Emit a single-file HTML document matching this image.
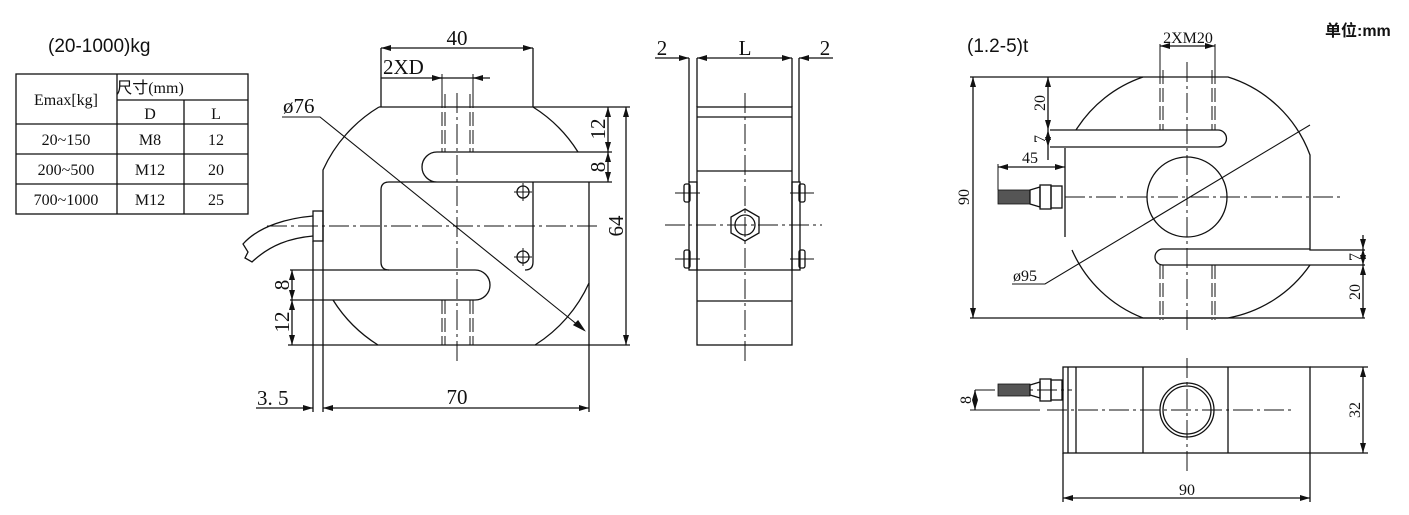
<!DOCTYPE html>
<html><head><meta charset="utf-8"><style>
html,body{margin:0;padding:0;background:#fff;}
svg{display:block}
.t{font-family:"Liberation Serif",serif;fill:#111;}
.s{font-family:"Liberation Sans","Noto Sans CJK SC",sans-serif;fill:#111;}
</style></head><body>
<svg width="1409" height="515" viewBox="0 0 1409 515" xmlns="http://www.w3.org/2000/svg">
<defs>
<marker id="a" viewBox="0 0 10 6" refX="10" refY="3" markerWidth="10" markerHeight="6" orient="auto-start-reverse" markerUnits="userSpaceOnUse"><path d="M0,0 L10,3 L0,6 z" fill="#111"/></marker>
</defs>
<g stroke="#111" stroke-width="1.3" fill="none">
<!-- table -->
<rect x="16" y="74" width="232" height="140"/>
<line x1="117" y1="74" x2="117" y2="214"/>
<line x1="117" y1="100" x2="248" y2="100"/>
<line x1="184" y1="100" x2="184" y2="214"/>
<line x1="16" y1="124" x2="248" y2="124"/>
<line x1="16" y1="154" x2="248" y2="154"/>
<line x1="16" y1="184" x2="248" y2="184"/>

<!-- FRONT VIEW -->
<path d="M379,107 L533,107 M533,107 A142,142 0 0 1 578,152"/>
<path d="M379,107 A142,142 0 0 0 323,170 L323,270"/>
<path d="M437,152 L578,152 M389,182 L589,182 M437,152 A15,15 0 0 0 437,182"/>
<path d="M589,182 L589,283 A142,142 0 0 1 535,345 L378,345 A142,142 0 0 1 333,300"/>
<path d="M290,270 L475,270 A15,15 0 0 1 475,300 L290,300"/>
<path d="M381,48 V107 M533,48 V107"/>
<path d="M389,182 Q381,182 381,190 L381,262 Q381,270 389,270 M533,182 L533,262 Q533,270 525,270"/>
<circle cx="523" cy="192" r="6"/><circle cx="523" cy="257" r="6"/>
<path d="M514,192 h18 M523,183 v18 M514,257 h18 M523,248 v18" stroke-width="1"/>
<g stroke-dasharray="20,4,3,4" stroke-width="1"><line x1="267" y1="226" x2="600" y2="226"/><line x1="457" y1="93" x2="457" y2="362"/></g>
<g stroke-dasharray="14,4" stroke-width="1"><path d="M442,94 V152 M445,94 V152 M470,94 V152 M473,94 V152 M442,300 V345 M445,300 V345 M470,300 V345 M473,300 V345"/></g>
<!-- cable -->
<rect x="313" y="211" width="10" height="30"/>
<path d="M313,216 C290,218 260,225 243,244 L248,252 L245,258 L252,262 C270,245 290,238 313,236"/>
<!-- dims front -->
<line x1="381" y1="48" x2="533" y2="48" marker-start="url(#a)" marker-end="url(#a)"/>
<line x1="381" y1="78" x2="490" y2="78"/>
<line x1="432" y1="78" x2="442" y2="78" marker-end="url(#a)"/>
<line x1="483" y1="78" x2="473" y2="78" marker-end="url(#a)"/>
<path d="M442,74 V100 M473,74 V100" stroke-width="1"/>
<path d="M533,107 H630 M578,152 H612 M589,182 H612 M535,345 H630"/>
<line x1="608" y1="107" x2="608" y2="152" marker-start="url(#a)" marker-end="url(#a)"/>
<line x1="608" y1="152" x2="608" y2="182" marker-start="url(#a)" marker-end="url(#a)"/>
<line x1="626" y1="107" x2="626" y2="345" marker-start="url(#a)" marker-end="url(#a)"/>
<path d="M288,345 H378"/>
<line x1="292" y1="270" x2="292" y2="300" marker-start="url(#a)" marker-end="url(#a)"/>
<line x1="292" y1="300" x2="292" y2="345" marker-start="url(#a)" marker-end="url(#a)"/>
<path d="M313,241 V412 M323,270 V412 M589,283 V412"/>
<line x1="323" y1="408" x2="589" y2="408" marker-start="url(#a)" marker-end="url(#a)"/>
<line x1="256" y1="408" x2="313" y2="408" marker-end="url(#a)"/>
<path d="M282,117 H320 L584,330" stroke-width="1.1"/>
<path d="M584,330 l-10,-5 l4,-4z" fill="#111"/>

<!-- SIDE VIEW -->
<rect x="697" y="107" width="95" height="238"/>
<path d="M697,117 H792 M697,171 H792 M697,270 H792 M697,301 H792"/>
<path d="M689,58 V182 M697,58 V107 M792,58 V107 M799,58 V182"/>
<rect x="689" y="182" width="8" height="88"/><rect x="792" y="182" width="8" height="88"/>
<rect x="684" y="184" width="6" height="18" rx="2"/><rect x="684" y="250" width="6" height="18" rx="2"/>
<rect x="799" y="184" width="6" height="18" rx="2"/><rect x="799" y="250" width="6" height="18" rx="2"/>
<path d="M675,193 H700 M675,259 H700 M790,193 H814 M790,259 H814" stroke-width="1"/>
<polygon points="745,209 759,217 759,233 745,241 731,233 731,217"/>
<circle cx="745" cy="225" r="10"/>
<g stroke-dasharray="20,4,3,4" stroke-width="1"><line x1="665" y1="225" x2="822" y2="225"/><line x1="745" y1="93" x2="745" y2="362"/></g>
<line x1="655" y1="58" x2="689" y2="58" marker-end="url(#a)"/>
<line x1="697" y1="58" x2="792" y2="58" marker-start="url(#a)" marker-end="url(#a)"/>
<line x1="833" y1="58" x2="799" y2="58" marker-end="url(#a)"/>

<!-- RIGHT TOP VIEW -->
<path d="M1143,77 H1228 A128,128 0 0 1 1310,155 V250 H1365 M1310,265 A128,128 0 0 1 1228,318 H1143 A128,128 0 0 1 1072,250 M1065,237 V148"/>
<path d="M1143,77 A128,128 0 0 0 1076,130"/>
<path d="M1310,265 H1365"/>
<path d="M1050,130 H1218 A8.5,8.5 0 0 1 1218,147 H1050"/>
<path d="M1163,249 H1310 M1163,265 H1310 M1163,249 A8,8 0 0 0 1163,265"/>
<circle cx="1187" cy="197" r="40"/>
<g stroke-dasharray="20,4,3,4" stroke-width="1"><line x1="1065" y1="197" x2="1340" y2="197"/><line x1="1187" y1="62" x2="1187" y2="330"/></g>
<g stroke-dasharray="14,4" stroke-width="1"><path d="M1160,70 V130 M1163,70 V130 M1212,70 V130 M1215,70 V130 M1160,265 V320 M1163,265 V320 M1212,265 V320 M1215,265 V320"/></g>
<path d="M1160,44 V70 M1215,44 V70" stroke-width="1"/>
<line x1="1160" y1="46" x2="1215" y2="46" marker-start="url(#a)" marker-end="url(#a)"/>
<path d="M970,77 H1143 M970,318 H1365"/>
<line x1="973" y1="77" x2="973" y2="318" marker-start="url(#a)" marker-end="url(#a)"/>
<line x1="1048" y1="77" x2="1048" y2="130" marker-start="url(#a)" marker-end="url(#a)"/>
<line x1="1048" y1="130" x2="1048" y2="147" marker-start="url(#a)" marker-end="url(#a)"/>
<line x1="1048" y1="147" x2="1048" y2="160"/>
<path d="M998,164 V190 M1065,158 V170" stroke-width="1"/>
<line x1="998" y1="167" x2="1065" y2="167" marker-start="url(#a)" marker-end="url(#a)"/>
<line x1="1363" y1="235" x2="1363" y2="249" marker-end="url(#a)"/>
<line x1="1363" y1="249" x2="1363" y2="265" marker-start="url(#a)" marker-end="url(#a)"/>
<line x1="1363" y1="265" x2="1363" y2="318" marker-start="url(#a)" marker-end="url(#a)"/>
<path d="M1012,284 H1045 L1310,125" stroke-width="1.1"/>
<!-- connector -->
<rect x="998" y="190" width="32" height="14" fill="#555" stroke-width="0.8"/>
<path d="M1030,190 L1040,187 V207 L1030,204 Z"/>
<rect x="1040" y="185" width="11" height="24"/><rect x="1051" y="186" width="11" height="22"/>

<!-- BOTTOM VIEW -->
<rect x="1063" y="367" width="247" height="86"/>
<path d="M1068,367 V453 M1076,367 V453 M1143,367 V453 M1228,367 V453"/>
<circle cx="1187" cy="410" r="27"/><circle cx="1187" cy="410" r="24"/>
<g stroke-dasharray="20,4,3,4" stroke-width="1"><line x1="1047" y1="410" x2="1295" y2="410"/><line x1="1187" y1="358" x2="1187" y2="472"/><line x1="975" y1="390" x2="1072" y2="390"/></g>
<rect x="998" y="384" width="32" height="12" fill="#555" stroke-width="0.8"/>
<path d="M1030,385 L1040,382 V398 L1030,395 Z"/>
<rect x="1040" y="379" width="11" height="22"/><rect x="1051" y="380" width="11" height="20"/>
<path d="M970,410 H1040" stroke-width="1"/>
<line x1="975" y1="390" x2="975" y2="410" marker-start="url(#a)" marker-end="url(#a)"/>
<path d="M1310,367 H1368 M1310,453 H1368 M1063,453 V502 M1310,453 V502"/>
<line x1="1363" y1="367" x2="1363" y2="453" marker-start="url(#a)" marker-end="url(#a)"/>
<line x1="1063" y1="498" x2="1310" y2="498" marker-start="url(#a)" marker-end="url(#a)"/>
</g>

<!-- text -->
<text class="s" x="48" y="52" font-size="19">(20-1000)kg</text>
<text class="s" x="967" y="52" font-size="19">(1.2-5)t</text>
<text class="s" x="1325" y="36" font-size="16" font-weight="bold">单位:mm</text>
<g class="t" font-size="16" text-anchor="middle">
<text x="66" y="105">Emax[kg]</text>
<text x="150" y="93">尺寸(mm)</text>
<text x="150" y="119">D</text><text x="216" y="119">L</text>
<text x="66" y="145">20~150</text><text x="150" y="145">M8</text><text x="216" y="145">12</text>
<text x="66" y="175">200~500</text><text x="150" y="175">M12</text><text x="216" y="175">20</text>
<text x="66" y="205">700~1000</text><text x="150" y="205">M12</text><text x="216" y="205">25</text>
</g>
<g class="t" font-size="21">
<text x="457" y="45" text-anchor="middle">40</text>
<text x="383" y="74">2XD</text>
<text x="283" y="113">ø76</text>
<text x="457" y="404" text-anchor="middle">70</text>
<text x="257" y="405">3. 5</text>
<text transform="translate(605,129) rotate(-90)" text-anchor="middle">12</text>
<text transform="translate(605,167) rotate(-90)" text-anchor="middle">8</text>
<text transform="translate(623,226) rotate(-90)" text-anchor="middle">64</text>
<text transform="translate(289,285) rotate(-90)" text-anchor="middle">8</text>
<text transform="translate(289,322) rotate(-90)" text-anchor="middle">12</text>
<text x="662" y="55" text-anchor="middle">2</text>
<text x="745" y="55" text-anchor="middle">L</text>
<text x="825" y="55" text-anchor="middle">2</text>
</g>
<g class="t" font-size="16">
<text x="1188" y="43" text-anchor="middle">2XM20</text>
<text transform="translate(969,197) rotate(-90)" text-anchor="middle">90</text>
<text transform="translate(1045,103) rotate(-90)" text-anchor="middle">20</text>
<text transform="translate(1045,139) rotate(-90)" text-anchor="middle">7</text>
<text x="1030" y="163" text-anchor="middle">45</text>
<text x="1013" y="281">ø95</text>
<text transform="translate(1360,257) rotate(-90)" text-anchor="middle">7</text>
<text transform="translate(1360,292) rotate(-90)" text-anchor="middle">20</text>
<text transform="translate(971,400) rotate(-90)" text-anchor="middle">8</text>
<text transform="translate(1360,410) rotate(-90)" text-anchor="middle">32</text>
<text x="1187" y="495" text-anchor="middle">90</text>
</g>
</svg>
</body></html>
